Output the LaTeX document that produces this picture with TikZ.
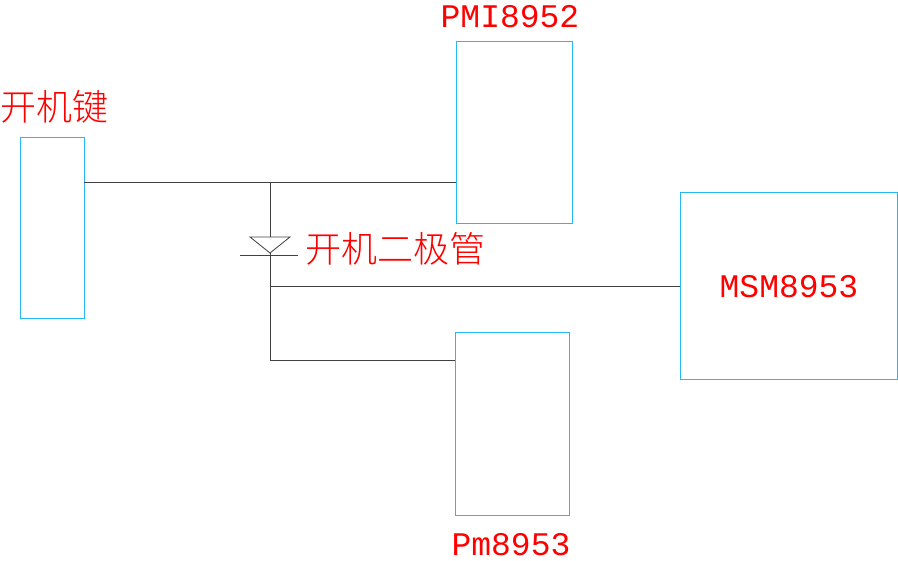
\documentclass[tikz,border=0pt]{standalone}
\usepackage{fontspec}
\newfontfamily\cjk{Noto Sans CJK SC Light}
\newfontfamily\lat{Liberation Mono}
\begin{document}
\begin{tikzpicture}[x=1pt,y=-1pt,
  blk/.style={draw=cyan!85!white,line width=0.8pt},
  wire/.style={draw=black!75,line width=0.8pt},
  lab/.style={text=red,font=\lat\fontsize{33}{33}\selectfont,inner sep=0},
  clab/.style={text=red,font=\cjk\fontsize{36}{36}\selectfont,inner sep=0}]
\useasboundingbox (0,0) rectangle (898,561);
\node[blk,minimum width=64,minimum height=181,inner sep=0] (key) at (52,227.5) {};
\node[blk,minimum width=116,minimum height=182,inner sep=0] (pmi) at (514,132) {};
\node[blk,minimum width=217,minimum height=187,inner sep=0] (msm) at (788.5,285.5) {};
\node[blk,minimum width=114,minimum height=183,inner sep=0] (pm) at (512,423.5) {};
\node[clab] (tkey) at (55,107) {开机键};
\node[lab] (tpmi) at (510,17) {PMI8952};
\node[lab] (tmsm) at (789,287) {MSM8953};
\node[lab] (tpm) at (511,545) {Pm8953};
\node[clab,anchor=west] (tdio) at (305,249) {开机二极管};
\coordinate (j1) at (270,182);
\coordinate (dt) at (270,237);
\coordinate (da) at (270,253);
\coordinate (j2) at (270,286);
\coordinate (j3) at (270,360);
\coordinate (bl) at (240,255);
\coordinate (br) at (298,255);
\draw[wire] (key.east|-j1) -- (pmi.west|-j1);
\draw[wire] (j1) -- (dt);
\draw[wire] (250,237) -- (290,237) -- (da) -- cycle;
\draw[wire] (bl) -- (br);
\draw[wire] (da) -- (j3) -- (pm.west|-j3);
\draw[wire] (j2) -- (msm.west|-j2);
\end{tikzpicture}
\end{document}
